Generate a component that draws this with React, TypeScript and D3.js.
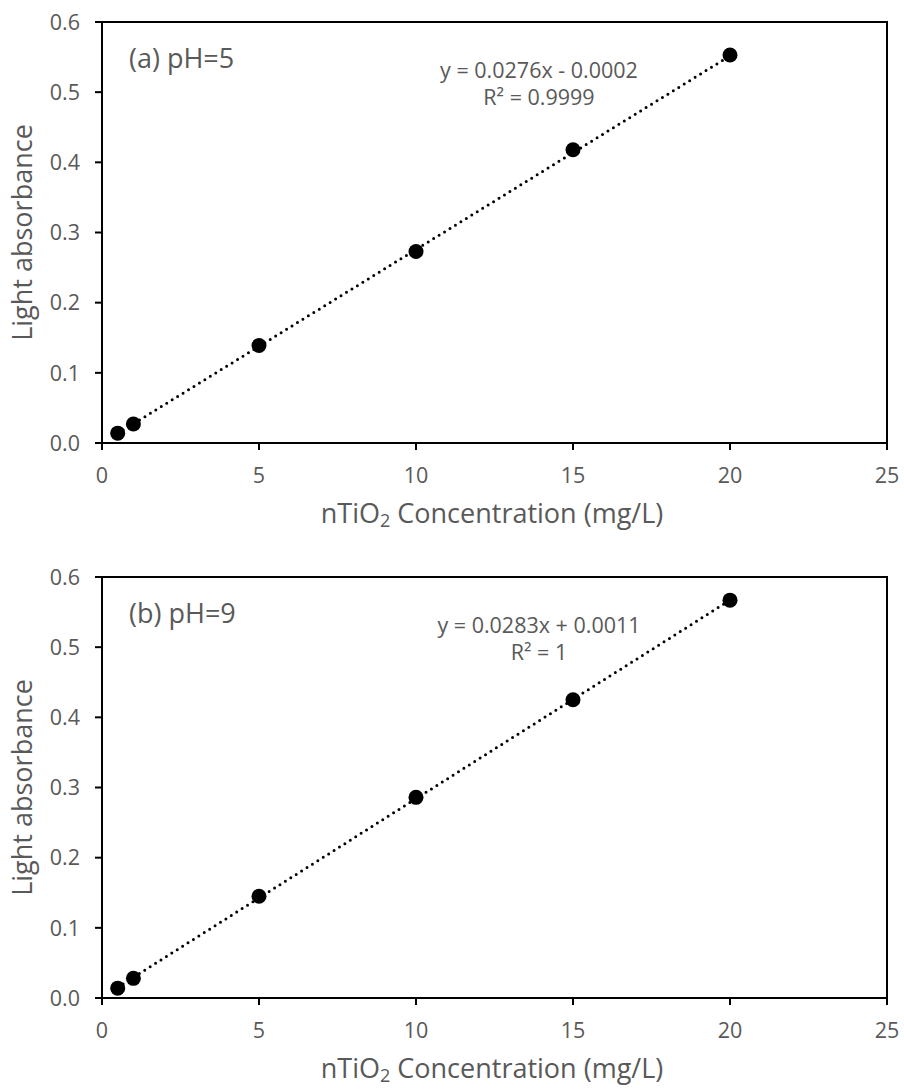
import React from "react";
import * as d3 from "d3";

const concentrations = [0.5, 1, 5, 10, 15, 20];
const absorbancePH5 = [0.014, 0.027, 0.139, 0.273, 0.418, 0.553];
const absorbancePH9 = [0.014, 0.028, 0.145, 0.286, 0.425, 0.567];
const xTicks = [0, 5, 10, 15, 20, 25];
const yTicks = [0.0, 0.1, 0.2, 0.3, 0.4, 0.5, 0.6];
const panelLabels = ["(a) pH=5", "(b) pH=9"];
const equations = ["y = 0.0276x - 0.0002", "y = 0.0283x + 0.0011"];
const r2Labels = ["R² = 0.9999", "R² = 1"];
const slopes = [0.0276, 0.0283];
const intercepts = [-0.0002, 0.0011];

const FONT = "'Open Sans', 'Noto Sans', sans-serif";
const GRAY = "#595959";

function Panel({ top, idx, values }: { top: number; idx: number; values: number[] }) {
  const left = 102;
  const right = 887;
  const height = 421;
  const x = d3.scaleLinear().domain([0, 25]).range([left, right]);
  const y = d3.scaleLinear().domain([0, 0.6]).range([top + height, top]);
  const x0 = concentrations[0];
  const x1 = concentrations[concentrations.length - 1];
  const line = d3.line<number>().x((d) => x(d)).y((d) => y(slopes[idx] * d + intercepts[idx]));
  const bottom = top + height;
  return (
    <g>
      <rect x={left} y={top} width={right - left} height={height} fill="none" stroke="#000" strokeWidth={2} />
      {yTicks.map((t) => (
        <g key={"y" + t}>
          <line x1={left - 7} x2={left} y1={y(t)} y2={y(t)} stroke="#000" strokeWidth={2} />
          <text x={80} y={y(t)} dy="0.36em" textAnchor="end" fontSize={21.5} fill={GRAY} fontFamily={FONT}>
            {t.toFixed(1)}
          </text>
        </g>
      ))}
      {xTicks.map((t) => (
        <g key={"x" + t}>
          <line x1={x(t)} x2={x(t)} y1={bottom} y2={bottom + 7} stroke="#000" strokeWidth={2} />
          <text x={x(t)} y={bottom + 40} textAnchor="middle" fontSize={21.5} fill={GRAY} fontFamily={FONT}>
            {t}
          </text>
        </g>
      ))}
      <path
        d={line([x0, x1]) || ""}
        fill="none"
        stroke="#000"
        strokeWidth={3}
        strokeLinecap="round"
        strokeDasharray="0,6.4"
      />
      {concentrations.map((c, i) => (
        <circle key={c} cx={x(c)} cy={y(values[i])} r={7.5} fill="#000" />
      ))}
      <text x={129} y={top + 46} fontSize={27} fill={GRAY} fontFamily={FONT}>
        {panelLabels[idx]}
      </text>
      <text x={539} y={top + 56} textAnchor="middle" fontSize={21.5} fill={GRAY} fontFamily={FONT}>
        {equations[idx]}
      </text>
      <text x={539} y={top + 83} textAnchor="middle" fontSize={21.5} fill={GRAY} fontFamily={FONT}>
        {r2Labels[idx]}
      </text>
      <text
        transform={`translate(32,${(top + bottom) / 2}) rotate(-90)`}
        textAnchor="middle"
        fontSize={27}
        fill={GRAY}
        fontFamily={FONT}
      >
        Light absorbance
      </text>
      <text x={492} y={bottom + 80} textAnchor="middle" fontSize={27} fill={GRAY} fontFamily={FONT}>
        nTiO
        <tspan fontSize={18} dy={4}>2</tspan>
        <tspan dy={-4}> Concentration (mg/L)</tspan>
      </text>
    </g>
  );
}

export default function App() {
  return (
    <svg width={904} height={1089} style={{ position: "absolute", left: 0, top: 0, background: "#fff" }}>
      <rect width={904} height={1089} fill="#fff" />
      <Panel top={22} idx={0} values={absorbancePH5} />
      <Panel top={577} idx={1} values={absorbancePH9} />
    </svg>
  );
}
